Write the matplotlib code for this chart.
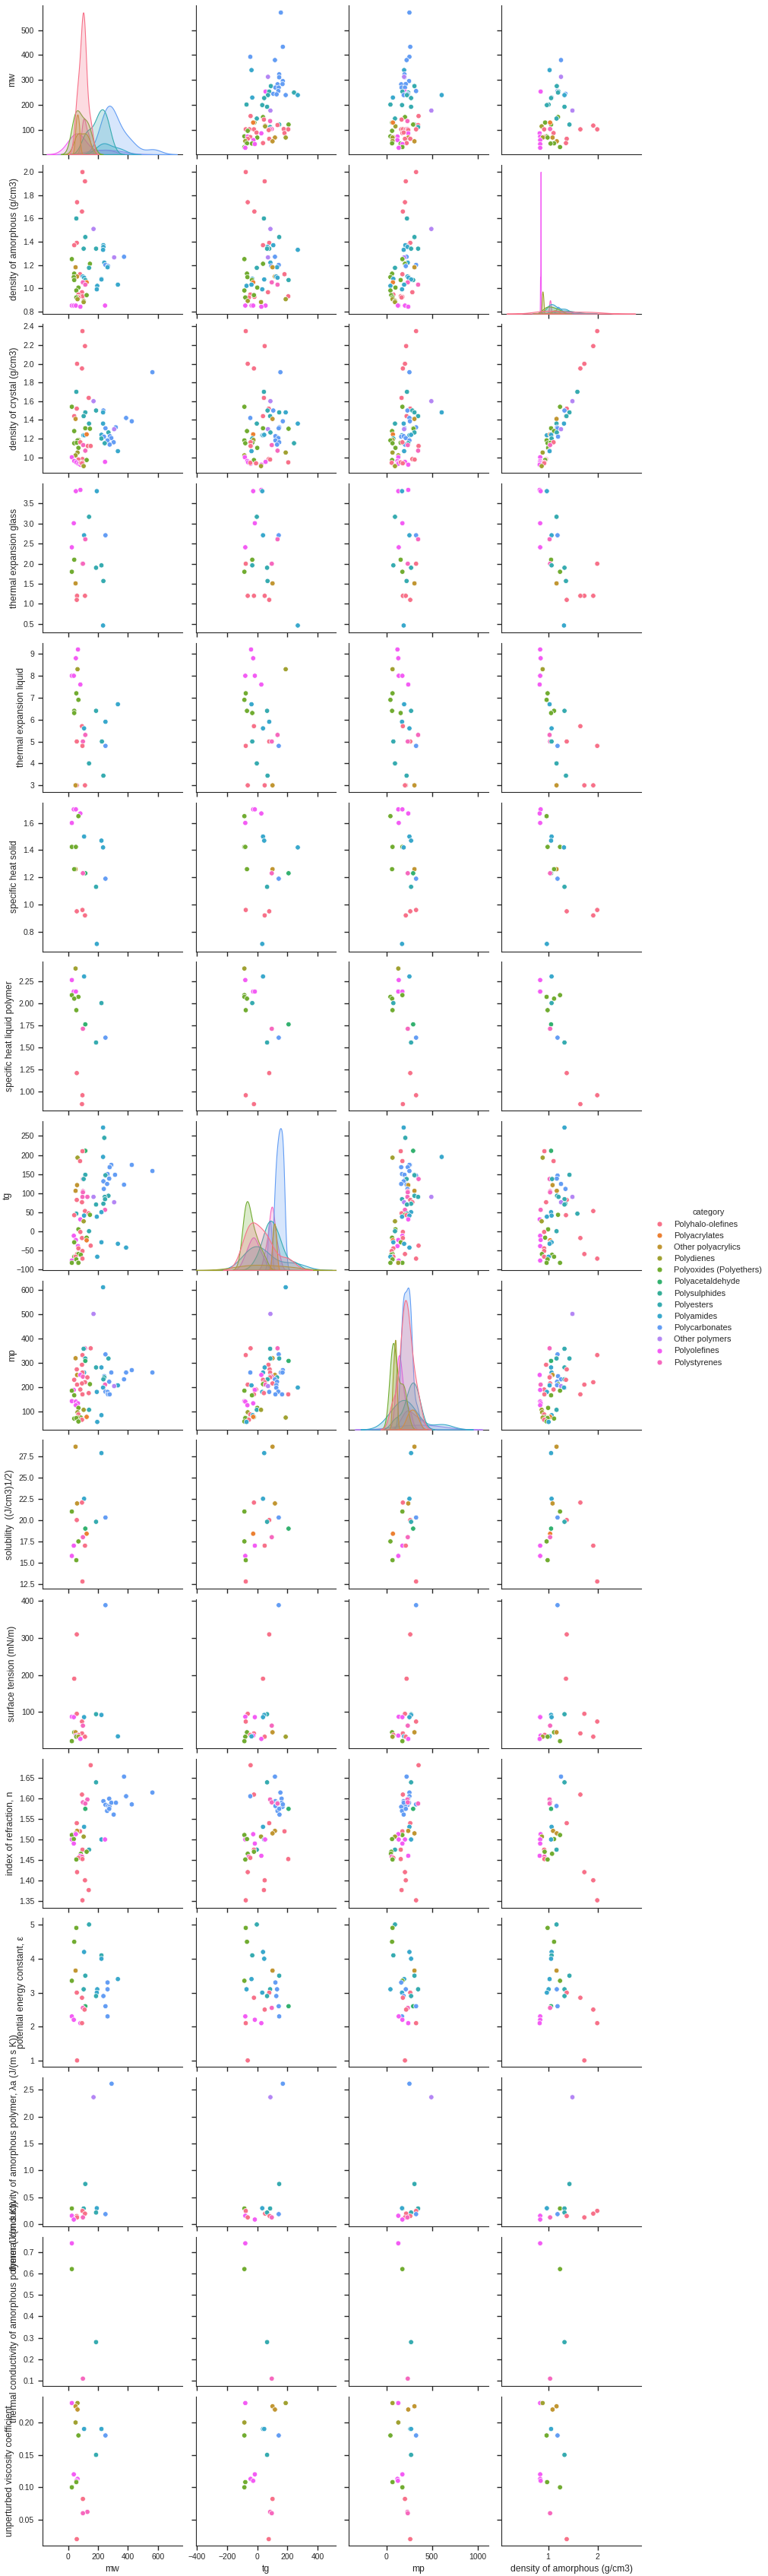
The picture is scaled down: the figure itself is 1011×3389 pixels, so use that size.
import matplotlib as mpl
from matplotlib import pyplot as plt
from matplotlib.lines import Line2D
import pandas as pd
import seaborn as sns

mpl.use('Agg')

sns.set_style('ticks')
plt.rcParams['font.family'] = ['Liberation Sans', 'DejaVu Sans']

N = None

categories = ['Polyhalo-olefines', 'Polyacrylates', 'Other polyacrylics', 'Polydienes',
              'Polyoxides (Polyethers)', 'Polyacetaldehyde', 'Polysulphides', 'Polyesters',
              'Polyamides', 'Polycarbonates', 'Other polymers', 'Polyolefines', 'Polystyrenes']

x_names = ['mw', 'tg', 'mp', 'density of amorphous (g/cm3)']

# every row: (category index, y, mw, tg, mp, density of amorphous)
mw_rows = [(9,570,N,156,253,N),(9,433,N,169,262,N),(9,393,N,-46,253,N),(9,380,N,117,222,1.26),
    (8,340,N,-38,195,1.03),(9,323,N,145,199,N),(9,311,N,145,199,N),(10,313,N,71,195,1.26),
    (9,296,N,169,249,N),(7,276,N,90,308,1.175),(9,283,N,134,163,N),(9,284,N,167,213,N),
    (9,270,N,120,167,N),(9,270,N,142,204,N),(9,256,N,139,326,1.19),(11,254,N,55,204,.85),
    (7,254,N,79,176,1.21),(7,250,N,243,240,1.20),(9,245,N,106,231,1.35),(9,240,N,188,190,1.33),
    (8,240,N,268,606,1.33),(9,243,N,128,235,N),(7,240,N,71,226,N),(8,230,N,-33,72,1.07),
    (7,228,N,46,271,1.06),(7,202,N,-71,45,1.01),(7,200,N,33,172,.975),(7,193,N,65,271,1.33),
    (10,178,N,87,493,1.49),(0,156,N,-44,353,N),(4,152,N,38,204,1.20),(7,146,N,-3,95,1.17),
    (12,136,N,85,231,N),(0,142,N,44,167,N),(3,130,N,-25,68,.94),(4,130,N,-19,63,.94),
    (7,122,N,145,308,1.43),(4,122,N,207,294,1.06),(0,118,N,52,348,1.91),(0,120,N,134,348,N),
    (3,115,N,52,100,.87),(1,130,N,-27,72,1.04),(7,112,N,85,348,N),(0,104,N,175,176,N),
    (0,103,N,-76,326,1.99),(0,103,N,-52,163,N),(0,103,N,-22,181,1.65),(0,103,N,205,213,.92),
    (12,104,N,96,235,1.04),(12,103,N,85,231,N),(0,100,N,76,240,N),(4,97,N,-63,63,N),
    (0,88,N,180,176,1.11),(11,87,N,27,240,.83),(0,90,N,-5,190,N),(4,75,N,-85,45,.97),
    (11,74,N,-63,122,.84),(0,72,N,-46,77,.92),(4,70,N,0,68,.99),(2,70,N,117,240,1.09),
    (3,70,N,188,68,.89),(0,65,N,79,262,1.375),(0,65,N,-63,204,N),(11,60,N,-25,122,.84),
    (3,56,N,-79,68,N),(2,55,N,101,308,1.175),(0,48,N,38,222,1.36),(4,47,N,-68,63,1.12),
    (4,46,N,-35,157,1.05),(11,44,N,-16,176,.84),(4,32,N,-85,176,1.24),(11,29,N,-79,136,.84)]

density_am_rows = [(0,2.0,96,-76,326,N),(0,1.92,113,49,213,N),(0,1.74,60,-63,204,N),(0,1.66,93,-19,181,N),
    (7,1.60,55,44,226,N),(10,1.51,170,87,493,N),(7,1.44,115,145,308,N),(0,1.39,58,79,262,N),
    (0,1.37,41,38,222,N),(8,1.37,236,106,208,N),(8,1.355,236,68,231,N),(7,1.34,104,79,348,N),
    (7,1.34,187,65,271,N),(8,1.33,234,268,190,N),(9,1.27,374,117,222,N),(10,1.265,308,71,195,N),
    (4,1.25,25,-85,176,N),(8,1.22,242,87,235,N),(4,1.21,146,38,204,N),(9,1.20,250,142,326,N),
    (9,1.19,267,93,213,N),(8,1.18,264,131,308,N),(7,1.175,140,-3,95,N),(2,1.18,50,101,308,N),
    (4,1.125,41,-68,63,N),(0,1.12,80,180,176,N),(2,1.10,60,117,240,N),(8,1.10,99,126,231,N),
    (8,1.09,107,134,244,N),(4,1.095,38,-65,45,N),(8,1.08,223,-33,77,N),(7,1.07,115,207,294,N),
    (8,1.075,223,46,271,N),(4,1.07,41,-35,157,N),(1,1.05,124,-27,72,N),(12,1.05,99,96,235,N),
    (12,1.03,115,134,348,N),(8,1.02,195,-71,45,N),(4,1.005,69,0,100,N),(8,1.03,333,-38,195,N),
    (8,.99,192,33,172,N),(4,.98,55,-85,45,N),(0,.965,93,71,285,N),(0,.945,69,-46,77,N),
    (0,.93,96,205,158,N),(0,.925,69,-19,176,N),(0,.92,69,-55,167,N),(4,.94,124,-22,54,N),
    (4,.92,55,-79,68,N),(3,.905,63,188,68,N),(3,.89,104,-63,95,N),(3,.88,104,25,95,N),
    (11,.85,25,-79,136,N),(11,.85,38,-38,131,N),(11,.85,52,-27,127,N),(11,.85,247,55,204,N),
    (11,.84,82,27,240,N)]

density_cr_rows = [(0,2.35,96,-76,326,1.99),(0,2.19,113,49,217,1.91),(0,2.0,60,-63,204,1.73),
    (0,1.95,93,-22,181,1.65),(9,1.91,564,153,253,N),(7,1.70,55,44,226,1.59),(0,1.635,138,44,167,N),
    (10,1.60,170,87,493,1.49),(4,1.54,25,-85,176,1.24),(0,1.52,58,76,262,1.375),(7,1.50,187,68,285,N),
    (9,1.50,236,106,231,1.33),(7,1.48,115,145,308,1.43),(8,1.48,234,188,606,N),(0,1.44,41,38,222,1.36),
    (7,1.44,104,85,348,1.37),(2,1.41,50,101,308,1.17),(9,1.42,388,-46,253,N),(9,1.385,426,169,258,N),
    (7,1.36,140,-3,95,1.17),(8,1.36,234,268,190,1.32),(9,1.32,319,145,326,1.18),(9,1.31,250,142,199,1.19),
    (4,1.31,115,38,294,1.06),(4,1.305,146,207,298,N),(10,1.30,308,71,195,1.26),(4,1.28,41,-68,63,1.12),
    (7,1.265,270,87,308,1.175),(8,1.235,102,33,172,.975),(8,1.235,110,38,253,1.07),(1,1.245,124,-27,72,1.04),
    (8,1.24,223,46,271,1.06),(9,1.22,240,128,163,1.20),(7,1.20,223,-33,77,1.07),(9,1.225,280,120,190,N),
    (9,1.205,289,139,213,N),(9,1.18,264,120,253,N),(9,1.16,305,145,176,N),(9,1.135,278,131,204,N),
    (7,1.15,245,243,240,N),(3,1.185,69,-25,68,N),(4,1.18,63,-85,45,.97),(4,1.15,41,-79,68,.99),
    (4,1.155,58,-33,157,1.05),(0,1.16,82,-44,176,1.11),(4,1.10,69,0,100,1.0),(12,1.13,101,96,235,1.04),
    (0,1.12,132,-41,353,N),(0,1.12,151,-44,353,N),(12,1.07,115,134,348,1.03),(8,1.065,333,-38,195,1.03),
    (3,1.05,63,188,68,.89),(3,1.02,50,-85,131,N),(11,1.0,25,-82,131,.84),(0,.98,96,76,285,.96),
    (0,.975,69,85,310,.95),(4,.97,124,-22,63,.94),(11,.95,247,55,204,.85),(11,.96,41,-66,122,.84),
    (11,.945,55,-60,136,.84),(11,.93,69,-44,131,.85),(11,.92,82,27,240,.83),(0,.94,85,-46,59,.92),
    (0,.945,96,205,158,.925),(0,.935,93,-8,180,.92),(3,.905,104,25,95,.87)]

expansion_glass_rows = [(11,3.84,82,27,240,.83),(11,3.81,52,-27,131,.85),(8,3.81,192,33,172,.975),
    (7,3.17,140,-3,95,1.17),(11,3.01,38,-16,176,.84),(8,2.71,107,38,253,1.07),(9,2.71,250,142,326,1.19),
    (12,2.61,115,134,348,1.03),(11,2.41,25,-79,136,.84),(4,2.1,41,-33,157,1.06),(0,2.0,96,-76,326,1.99),
    (12,2.0,99,96,235,1.04),(7,1.96,223,-33,77,1.07),(7,1.9,187,65,271,1.33),(4,1.8,25,-85,176,1.24),
    (7,1.57,236,68,222,1.36),(2,1.51,50,101,308,1.17),(0,1.2,58,-63,204,1.73),(0,1.2,113,-22,181,1.65),
    (0,1.2,60,49,213,1.91),(0,1.1,58,79,262,1.375),(8,.46,234,268,190,1.32)]

expansion_liquid_rows = [(11,9.2,66,-41,122,.84),(11,8.8,52,-27,131,.85),(3,8.3,63,188,68,.89),
    (11,8.0,25,-79,136,.84),(11,8.0,38,-16,176,.84),(11,7.6,82,27,240,.83),(4,7.2,55,-76,68,.99),
    (4,6.9,69,-85,45,.97),(8,6.7,333,-38,195,1.03),(7,6.4,187,65,271,1.33),(4,6.4,41,-68,63,1.12),
    (4,6.3,41,-33,157,1.06),(8,5.9,250,79,172,N),(0,5.7,93,-22,181,1.65),(8,5.6,107,38,253,1.07),
    (12,5.3,115,134,348,1.03),(0,5.0,58,79,262,1.375),(12,5.0,99,96,235,1.04),(7,5.0,226,-33,77,1.07),
    (0,4.8,96,-76,326,1.99),(9,4.8,250,142,326,1.19),(7,4.0,140,-3,95,1.17),(7,3.44,236,68,222,1.36),
    (0,3.0,58,49,213,1.91),(0,3.0,113,-63,204,1.73),(2,3.0,50,101,308,1.17)]

heat_solid_rows = [(11,1.70,38,-27,131,.85),(11,1.70,52,-16,176,.85),(11,1.67,82,27,240,.83),
    (4,1.65,69,-85,45,.97),(11,1.60,25,-79,136,.84),(8,1.50,107,38,253,1.07),(8,1.47,223,46,271,1.06),
    (4,1.424,25,-85,176,1.24),(4,1.424,52,-79,68,.99),(8,1.42,234,268,190,1.32),(2,1.26,50,101,308,1.17),
    (4,1.26,41,-68,63,1.12),(5,1.23,115,207,294,1.06),(12,1.23,99,96,235,1.04),(9,1.19,250,142,326,1.19),
    (7,1.13,187,65,271,1.33),(0,.96,96,-76,326,1.99),(0,.95,58,79,262,1.375),(0,.92,113,49,213,1.91),
    (8,.71,192,33,172,.975)]

heat_liquid_rows = [(3,2.39,50,-85,131,N),(8,2.30,107,38,253,1.07),(11,2.26,25,-79,136,.84),
    (11,2.13,38,-27,131,.84),(11,2.13,52,-16,176,.84),(4,2.09,25,-85,176,1.24),(4,2.07,69,-85,45,.97),
    (4,2.05,41,-68,63,1.12),(7,2.0,223,-33,77,1.07),(4,1.92,55,-76,68,.99),(5,1.76,115,207,294,1.06),
    (12,1.71,99,96,235,1.04),(9,1.61,250,142,326,1.19),(7,1.555,187,65,271,1.33),(0,1.21,58,79,262,1.375),
    (0,.96,96,-76,326,1.99),(0,.86,93,-22,181,1.65)]

tg_rows = [(8,272,234,N,190,1.33),(7,245,242,N,208,N),(5,211,115,N,294,1.06),(0,210,96,N,158,.925),
    (8,195,234,N,606,N),(3,193,63,N,68,.89),(0,184,80,N,176,1.11),(9,174,289,N,258,N),(9,174,426,N,253,N),
    (9,168,278,N,163,N),(9,168,278,N,235,N),(9,158,564,N,253,N),(9,150,264,N,172,N),(9,148,314,N,199,N),
    (7,148,115,N,308,1.43),(9,146,250,N,326,1.19),(7,147,250,N,308,N),(9,138,275,N,213,1.175),
    (12,137,99,N,353,1.03),(7,137,104,N,222,1.08),(9,131,236,N,190,N),(9,124,261,N,163,1.26),
    (9,122,374,N,222,N),(2,121,60,N,240,1.09),(9,111,239,N,231,1.35),(2,106,50,N,308,1.175),
    (12,105,99,N,235,1.04),(12,102,99,N,235,1.04),(12,90,129,N,235,N),(12,90,96,N,231,N),
    (10,90,170,N,493,1.49),(7,93,270,N,308,1.18),(7,90,245,N,348,1.21),(0,82,58,N,262,1.375),
    (7,84,247,N,172,1.33),(0,76,93,N,285,.96),(10,76,308,N,195,1.26),(7,72,236,N,271,1.35),
    (7,70,187,N,226,1.33),(0,53,113,N,208,1.91),(12,56,247,N,204,.85),(8,50,223,N,271,1.06),
    (0,47,138,N,167,N),(7,46,55,N,226,1.59),(4,43,146,N,204,1.20),(0,42,41,N,222,1.36),
    (8,41,107,N,253,1.07),(8,38,192,N,172,.975),(11,31,82,N,240,.83),(3,26,104,N,95,.87),
    (4,5,69,N,100,1.0),(7,0,140,N,95,1.17),(0,-2,82,N,181,.92),(11,-12,38,N,176,.84),
    (0,-18,93,N,181,1.65),(4,-17,124,N,63,.94),(11,-23,52,N,131,.85),(1,-24,124,N,72,1.04),
    (4,-29,41,N,158,1.05),(8,-29,223,N,77,1.07),(8,-33,333,N,195,1.03),(0,-38,151,N,353,N),
    (11,-39,66,N,122,.84),(8,-43,388,N,253,N),(0,-45,69,N,77,.92),(0,-52,96,N,59,.92),
    (0,-60,60,N,204,1.73),(4,-60,69,N,68,.875),(4,-62,85,N,54,1.08),(4,-67,41,N,63,1.12),
    (0,-67,50,N,77,.92),(8,-67,195,N,45,1.01),(0,-72,96,N,326,1.99),(11,-77,25,N,136,.84),
    (4,-74,55,N,68,.99),(4,-83,25,N,176,1.24),(3,-83,66,N,131,N),(4,-83,69,N,45,.97)]

mp_rows = [(8,612,234,188,N,N),(10,502,170,87,N,1.49),(0,360,151,-44,N,N),(12,360,113,134,N,1.03),
    (7,358,104,85,N,1.33),(9,335,250,142,N,1.19),(0,332,96,-76,N,1.99),(2,319,50,101,N,1.17),
    (7,318,115,87,N,1.17),(7,318,270,145,N,1.43),(5,308,115,207,N,1.06),(0,292,93,74,N,.96),
    (7,281,187,49,N,1.33),(8,281,223,49,N,1.06),(0,273,58,82,N,1.375),(9,270,426,169,N,N),
    (9,260,564,156,N,N),(9,260,388,-46,N,N),(9,260,289,167,N,N),(8,260,107,38,N,1.07),
    (0,260,96,85,N,N),(2,250,60,117,N,1.09),(11,250,82,27,N,.83),(9,245,242,87,N,1.20),
    (12,243,99,96,N,1.04),(7,240,242,131,N,N),(0,240,129,85,N,1.03),(9,232,374,117,N,1.26),
    (7,232,236,68,N,1.33),(0,230,41,38,N,1.36),(9,222,275,131,N,1.18),(0,220,113,49,N,1.91),
    (0,215,93,101,N,1.04),(4,212,146,38,N,1.20),(12,210,247,55,N,.85),(0,210,60,-63,N,1.73),
    (9,208,330,126,N,1.18),(8,207,333,-38,N,1.03),(10,204,308,71,N,1.26),(9,197,236,126,N,1.33),
    (8,198,234,268,N,1.32),(0,190,80,-19,N,1.11),(0,190,82,-8,N,.92),(11,188,38,-16,N,.84),
    (4,185,25,-85,N,1.24),(9,181,250,139,N,N),(9,180,264,79,N,N),(8,180,192,33,N,.975),
    (0,175,138,44,N,N),(0,170,96,-22,N,1.65),(9,170,267,120,N,N),(9,170,278,164,N,N),
    (0,170,96,205,N,.925),(4,166,41,-35,N,1.06),(11,142,25,-85,N,.84),(11,140,52,-79,N,.84),
    (11,133,66,-27,N,.85),(11,125,52,-65,N,.84),(4,114,69,0,N,1.0),(7,106,140,-3,N,1.17),
    (3,106,104,25,N,.87),(3,96,63,-63,N,.88),(0,87,69,-46,N,.92),(8,84,223,-30,N,1.07),
    (4,76,124,-22,N,.94),(1,77,124,-27,N,1.04),(4,74,85,-79,N,.99),(3,74,63,188,N,.89),
    (4,70,41,-68,N,1.12),(4,72,55,-79,N,.99),(0,65,93,-55,N,.92),(4,58,69,-85,N,.97),
    (8,56,195,-71,N,1.01)]

solubility_rows = [(2,28.6,50,101,308,1.17),(8,27.85,223,46,271,1.06),(8,22.5,107,38,253,1.07),
    (0,22.05,93,-22,181,1.65),(2,21.95,60,117,240,1.09),(4,21.0,25,-85,176,1.24),(9,20.3,250,142,326,1.19),
    (0,20.0,58,79,262,1.375),(7,19.8,187,65,271,1.33),(5,19.0,115,207,294,1.06),(1,18.4,124,-27,72,1.04),
    (12,18.0,99,96,235,1.04),(4,17.5,69,-85,45,.97),(11,17.0,38,-16,176,.84),(0,17.0,113,49,213,1.91),
    (11,15.8,25,-79,131,.84),(4,15.3,55,-76,68,.99),(0,12.8,96,-76,326,1.99)]

surface_tension_rows = [(9,389,250,142,326,1.19),(0,310,58,79,262,1.375),(0,190,41,38,222,1.36),
    (0,95,58,-63,204,1.73),(7,94,187,65,271,1.33),(8,92,223,46,271,1.06),(8,86,107,38,253,1.07),
    (11,87,25,-79,136,.84),(11,86,38,-16,176,.84),(0,74,93,-76,326,1.99),(12,63,99,96,235,1.04),
    (4,45,41,-68,63,1.12),(2,45,50,101,308,1.17),(0,42,93,-22,181,1.65),(0,38,69,-46,77,.93),
    (11,36,52,-27,131,.85),(8,34,333,-38,195,1.03),(0,33,113,49,213,1.91),(4,33,55,-79,68,.99),
    (3,33,69,188,68,.89),(11,27,82,27,240,.83),(4,21,25,-85,176,1.24)]

refraction_rows = [(0,1.682,151,-44,353,N),(9,1.654,374,117,222,1.26),(7,1.64,187,65,271,1.33),
    (9,1.615,564,153,253,N),(0,1.61,93,-22,181,1.65),(9,1.606,388,-46,253,N),(9,1.60,275,161,240,N),
    (9,1.594,236,120,190,N),(9,1.585,250,169,235,N),(9,1.582,267,120,204,1.17),(9,1.58,277,167,163,N),
    (9,1.57,261,134,172,N),(9,1.575,275,145,213,N),(9,1.59,289,161,249,N),(9,1.59,320,134,190,N),
    (9,1.561,305,147,190,N),(9,1.586,426,169,326,N),(12,1.598,129,85,231,1.03),(12,1.591,99,96,235,1.04),
    (12,1.588,115,134,348,1.03),(5,1.575,115,207,294,1.06),(0,1.54,58,79,262,1.375),(8,1.531,107,38,253,1.07),
    (0,1.52,80,180,176,N),(2,1.521,60,117,240,1.10),(2,1.515,50,101,308,1.175),(4,1.511,25,-85,176,1.24),
    (11,1.513,52,-27,131,.85),(3,1.507,104,25,95,.875),(11,1.50,25,-79,136,.84),(4,1.501,38,-68,63,1.12),
    (8,1.50,223,46,271,1.06),(11,1.50,247,52,204,.84),(11,1.49,38,-16,176,.84),(7,1.475,140,-3,95,1.17),
    (0,1.475,96,-22,158,.92),(4,1.47,124,-22,54,.93),(4,1.465,85,-63,50,1.08),(11,1.46,82,27,240,.83),
    (12,1.458,93,-55,59,.925),(0,1.455,69,-46,77,N),(0,1.452,96,205,158,.925),(4,1.451,55,-79,68,.99),
    (0,1.42,60,-63,204,1.73),(0,1.40,113,49,213,1.91),(0,1.376,138,44,167,N),(0,1.351,96,-76,326,1.99)]

potential_energy_rows = [(7,5.01,140,-3,95,1.17),(4,4.91,55,-76,68,.99),(4,4.5,41,-68,63,1.12),
    (8,4.2,107,38,253,1.07),(7,4.1,223,-33,77,1.07),(8,4.0,223,46,271,1.06),(2,3.65,50,101,308,1.17),
    (8,3.4,333,-38,195,1.03),(7,3.5,115,145,308,1.43),(4,3.35,25,-85,176,1.24),(9,3.3,264,120,163,N),
    (9,3.1,264,131,213,1.175),(7,3.1,104,85,348,1.33),(8,3.1,195,-71,45,1.01),(8,3.0,192,33,172,.975),
    (0,3.0,58,79,262,1.375),(7,2.9,187,65,271,1.33),(9,2.9,236,126,190,N),(0,2.85,93,-22,181,1.65),
    (5,2.6,115,207,294,1.06),(9,2.6,250,142,326,1.19),(12,2.55,99,96,235,1.04),(0,2.5,110,49,217,1.91),
    (9,2.3,264,145,172,N),(11,2.3,25,-79,136,.84),(11,2.2,38,-16,176,.84),(11,2.1,82,27,240,.83),
    (0,2.1,93,-76,326,1.99),(0,1.0,60,-63,204,1.73)]

conductivity_a_rows = [(9,2.61,291,169,253,N),(10,2.36,170,87,493,1.49),(7,.75,115,145,308,1.43),
    (4,.295,25,-85,176,1.24),(7,.295,104,85,348,1.33),(8,.30,192,33,172,.975),(0,.25,96,-76,326,1.99),
    (0,.20,113,52,217,1.91),(7,.22,187,65,271,1.33),(9,.19,250,142,326,1.19),(11,.16,25,-79,131,.84),
    (0,.155,58,82,262,1.375),(0,.13,60,-63,204,1.73),(12,.13,99,96,231,1.04),(11,.09,38,-16,176,.84)]

conductivity_b_rows = [(11,.74,25,-79,131,.84),(4,.62,25,-85,176,1.24),(7,.28,187,65,271,1.33),
    (12,.11,99,96,235,1.04)]

viscosity_rows = [(11,.23,25,-79,131,.84),(3,.23,63,188,68,.89),(2,.225,50,101,308,1.17),
    (2,.22,63,117,240,1.09),(3,.20,50,-85,131,N),(8,.19,107,38,262,1.06),(8,.19,223,46,271,N),
    (4,.18,69,-85,45,.97),(9,.18,250,142,326,1.19),(7,.15,187,65,271,1.33),(11,.12,38,-16,176,.84),
    (11,.113,63,-44,122,.84),(11,.11,55,-27,127,.85),(4,.108,55,-79,68,.98),(4,.10,25,-85,176,1.24),
    (0,.082,99,101,204,N),(12,.062,129,85,231,N),(12,.06,99,96,235,1.04),(0,.02,58,76,262,1.375)]

y_rows = [mw_rows, density_am_rows, density_cr_rows, expansion_glass_rows, expansion_liquid_rows,
          heat_solid_rows, heat_liquid_rows, tg_rows, mp_rows, solubility_rows, surface_tension_rows,
          refraction_rows, potential_energy_rows, conductivity_a_rows, conductivity_b_rows, viscosity_rows]

y_names = ['mw', 'density of amorphous (g/cm3)', 'density of crystal (g/cm3)', 'thermal expansion glass',
           'thermal expansion liquid', 'specific heat solid', 'specific heat liquid polymer', 'tg', 'mp',
           'solubility  ((J/cm3)1/2)', 'surface tension (mN/m)', 'index of refraction, n',
           'potential energy constant, ε', 'thermal conductivity of amorphous polymer, λa (J/(m s K))',
           'thermal conductivity of amorphous polymer (J/(m s K))', 'unperturbed viscosity coefficient']

y_ticks = [[100, 200, 300, 400, 500], [.8, 1.0, 1.2, 1.4, 1.6, 1.8, 2.0],
           [1.0, 1.2, 1.4, 1.6, 1.8, 2.0, 2.2, 2.4], [.5, 1.0, 1.5, 2.0, 2.5, 3.0, 3.5],
           [3, 4, 5, 6, 7, 8, 9], [.8, 1.0, 1.2, 1.4, 1.6], [1.0, 1.25, 1.5, 1.75, 2.0, 2.25],
           [-100, -50, 0, 50, 100, 150, 200, 250], [100, 200, 300, 400, 500, 600],
           [12.5, 15, 17.5, 20, 22.5, 25, 27.5], [100, 200, 300, 400],
           [1.35, 1.4, 1.45, 1.5, 1.55, 1.6, 1.65], [1, 2, 3, 4, 5], [0, .5, 1.0, 1.5, 2.0, 2.5],
           [.1, .2, .3, .4, .5, .6, .7], [.05, .1, .15, .2]]

y_labels = [['100', '200', '300', '400', '500'], ['0.8', '1.0', '1.2', '1.4', '1.6', '1.8', '2.0'],
            ['1.0', '1.2', '1.4', '1.6', '1.8', '2.0', '2.2', '2.4'], ['0.5', '1.0', '1.5', '2.0', '2.5', '3.0', '3.5'],
            ['3', '4', '5', '6', '7', '8', '9'], ['0.8', '1.0', '1.2', '1.4', '1.6'],
            ['1.00', '1.25', '1.50', '1.75', '2.00', '2.25'],
            ['−100', '−50', '0', '50', '100', '150', '200', '250'], ['100', '200', '300', '400', '500', '600'],
            ['12.5', '15.0', '17.5', '20.0', '22.5', '25.0', '27.5'], ['100', '200', '300', '400'],
            ['1.35', '1.40', '1.45', '1.50', '1.55', '1.60', '1.65'], ['1', '2', '3', '4', '5'],
            ['0.0', '0.5', '1.0', '1.5', '2.0', '2.5'], ['0.1', '0.2', '0.3', '0.4', '0.5', '0.6', '0.7'],
            ['0.05', '0.10', '0.15', '0.20']]

y_limits = [(3, 599), (.78, 2.063), (.83, 2.425), (.286, 4.0), (2.70, 9.5), (.656, 1.752), (.786, 2.467),
            (-102, 289), (25, 640), (11.94, 29.4), (1.8, 405), (1.333, 1.698), (.806, 5.2), (-.038, 2.726),
            (.0765, .77), (.0106, .2405)]

x_ticks = [[0, 200, 400, 600], [-400, -200, 0, 200, 400], [0, 500, 1000], [1, 2]]
x_labels = [['0', '200', '400', '600'], ['−400', '−200', '0', '200', '400'], ['0', '500', '1000'], ['1', '2']]
x_limits = [(-173, 762), (-405, 519), (-412, 1118), (.058, 2.875)]

# which x column repeats the row's own variable: those cells get the kde
diag_cells = {0: 0, 1: 3, 7: 1, 8: 2}

W, H = 1011, 3389
col_left = [55.6, 258, 459, 660]
col_width = 184
row_bottom = [203 + 209.7 * i for i in range(16)]
row_height = 196

colors = sns.color_palette('husl', len(categories))

fig = plt.figure(figsize=(W / 100, H / 100), dpi=100)

for r, rows in enumerate(y_rows):
    frame = pd.DataFrame(rows, columns=['cat', 'y'] + x_names)
    for c, name in enumerate(x_names):
        ax = fig.add_axes([col_left[c] / W, 1 - row_bottom[r] / H, col_width / W, row_height / H])
        if diag_cells.get(r) == c:
            twin = ax.twinx()
            twin.set_axis_off()
            sns.kdeplot(x=frame['y'].values, hue=[categories[i] for i in frame['cat']],
                        hue_order=categories, palette=colors, fill=True, common_norm=True,
                        warn_singular=False, legend=False, linewidth=0.8, ax=twin)
            twin.set_xlim(x_limits[c])
        else:
            part = frame.dropna(subset=[name])
            ax.scatter(part[name], part['y'], c=[colors[i] for i in part['cat']],
                       s=22, edgecolors='white', linewidths=0.5)
        ax.set_xlim(x_limits[c])
        ax.set_ylim(y_limits[r])
        ax.set_xticks(x_ticks[c])
        ax.set_yticks(y_ticks[r])
        ax.spines['top'].set_visible(False)
        ax.spines['right'].set_visible(False)
        ax.tick_params(length=4.5, width=1, labelsize=7.5, color='.15', labelcolor='.15', pad=3)
        if c == 0:
            ax.set_yticklabels(y_labels[r])
            ax.set_ylabel(y_names[r], fontsize=8.7, color='.15')
        else:
            ax.set_yticklabels([])
        if r == len(y_rows) - 1:
            ax.set_xticklabels(x_labels[c])
            ax.set_xlabel(name, fontsize=8.7, color='.15')
        else:
            ax.set_xticklabels([])

handles = [Line2D([], [], linestyle='', marker='o', markersize=5, markerfacecolor=colors[i],
                  markeredgecolor='white', markeredgewidth=0.5) for i in range(len(categories))]
fig.legend(handles, categories, title='category', loc='center left',
           bbox_to_anchor=(852.6 / W, 1 - 1694 / H), frameon=False, fontsize=7.9,
           title_fontsize=7.9, labelspacing=0.47, handletextpad=1.23, handlelength=1.0,
           labelcolor='.15')

fig.savefig('out.png', dpi=100)
